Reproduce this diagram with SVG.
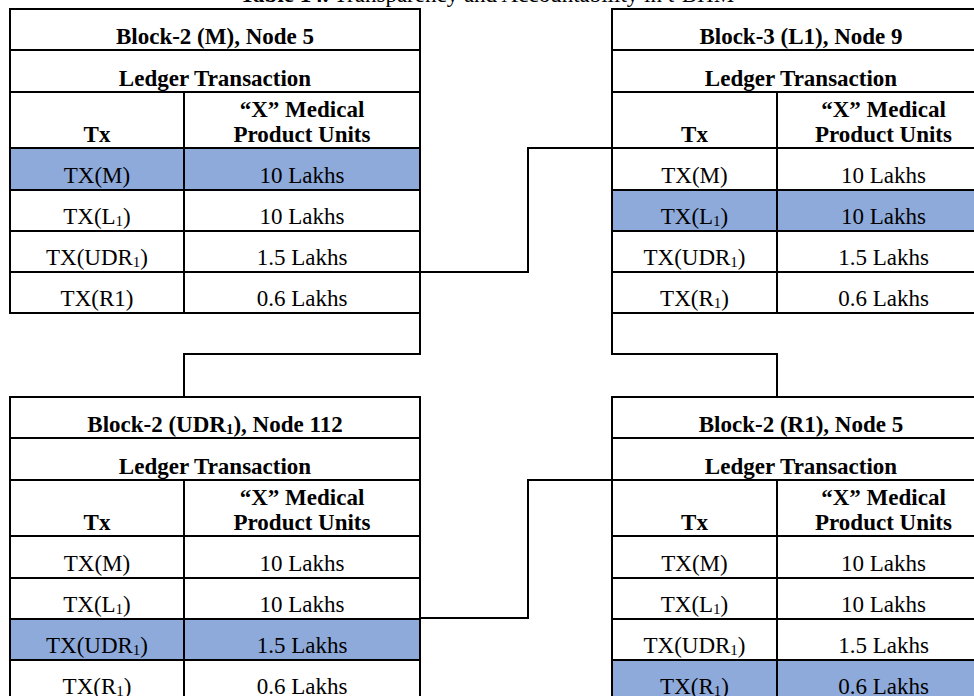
<svg xmlns="http://www.w3.org/2000/svg" width="974" height="696" viewBox="0 0 974 696">
<style>
.ln{fill:none;stroke:#000;stroke-width:2}
.hl{fill:#8EAADB}
.t{font-family:"Liberation Serif","Times New Roman",serif;font-size:23px;fill:#000;text-anchor:middle}
.b{font-weight:bold}
.sub{font-size:15px}
</style>
<rect width="974" height="696" fill="#fff"/>
<text class="t" x="487" y="2"><tspan class="b">Table 14.</tspan> Transparency and Accountability in t-BHM</text>

<g id="block-m" transform="translate(10,9)">
<rect class="hl" x="0" y="139" width="410" height="42"/>
<rect class="ln" x="0" y="0" width="410" height="304"/>
<path class="ln" d="M0,41H410M0,83H410M0,139H410M0,181H410M0,222H410M0,263H410M174,83V304"/>
<text class="t b" x="205" y="35">Block-2 (M), Node 5</text>
<text class="t b" x="205" y="77">Ledger Transaction</text>
<text class="t b" x="87" y="133">Tx</text>
<text class="t b" x="292" y="108">“X” Medical</text>
<text class="t b" x="292" y="133">Product Units</text>
<text class="t" x="87" y="174">TX(M)</text>
<text class="t" x="292" y="174">10 Lakhs</text>
<text class="t" x="87" y="215">TX(L<tspan class="sub" dy="2">1</tspan><tspan dy="-2">)</tspan></text>
<text class="t" x="292" y="215">10 Lakhs</text>
<text class="t" x="87" y="256">TX(UDR<tspan class="sub" dy="2">1</tspan><tspan dy="-2">)</tspan></text>
<text class="t" x="292" y="256">1.5 Lakhs</text>
<text class="t" x="87" y="297">TX(R1)</text>
<text class="t" x="292" y="297">0.6 Lakhs</text>
</g>

<g id="block-l1" transform="translate(612,9)">
<rect class="hl" x="0" y="181" width="378" height="41"/>
<rect class="ln" x="0" y="0" width="378" height="304"/>
<path class="ln" d="M0,41H378M0,83H378M0,139H378M0,181H378M0,222H378M0,263H378M165,83V304"/>
<text class="t b" x="189" y="35">Block-3 (L1), Node 9</text>
<text class="t b" x="189" y="77">Ledger Transaction</text>
<text class="t b" x="82.5" y="133">Tx</text>
<text class="t b" x="271.5" y="108">“X” Medical</text>
<text class="t b" x="271.5" y="133">Product Units</text>
<text class="t" x="82.5" y="174">TX(M)</text>
<text class="t" x="271.5" y="174">10 Lakhs</text>
<text class="t" x="82.5" y="215">TX(L<tspan class="sub" dy="2">1</tspan><tspan dy="-2">)</tspan></text>
<text class="t" x="271.5" y="215">10 Lakhs</text>
<text class="t" x="82.5" y="256">TX(UDR<tspan class="sub" dy="2">1</tspan><tspan dy="-2">)</tspan></text>
<text class="t" x="271.5" y="256">1.5 Lakhs</text>
<text class="t" x="82.5" y="297">TX(R<tspan class="sub" dy="2">1</tspan><tspan dy="-2">)</tspan></text>
<text class="t" x="271.5" y="297">0.6 Lakhs</text>
</g>

<g id="block-udr1" transform="translate(10,397)">
<rect class="hl" x="0" y="222" width="410" height="41"/>
<rect class="ln" x="0" y="0" width="410" height="304"/>
<path class="ln" d="M0,41H410M0,83H410M0,139H410M0,181H410M0,222H410M0,263H410M174,83V304"/>
<text class="t b" x="205" y="35">Block-2 (UDR<tspan class="sub" dy="2">1</tspan><tspan dy="-2">), Node 112</tspan></text>
<text class="t b" x="205" y="77">Ledger Transaction</text>
<text class="t b" x="87" y="133">Tx</text>
<text class="t b" x="292" y="108">“X” Medical</text>
<text class="t b" x="292" y="133">Product Units</text>
<text class="t" x="87" y="174">TX(M)</text>
<text class="t" x="292" y="174">10 Lakhs</text>
<text class="t" x="87" y="215">TX(L<tspan class="sub" dy="2">1</tspan><tspan dy="-2">)</tspan></text>
<text class="t" x="292" y="215">10 Lakhs</text>
<text class="t" x="87" y="256">TX(UDR<tspan class="sub" dy="2">1</tspan><tspan dy="-2">)</tspan></text>
<text class="t" x="292" y="256">1.5 Lakhs</text>
<text class="t" x="87" y="297">TX(R<tspan class="sub" dy="2">1</tspan><tspan dy="-2">)</tspan></text>
<text class="t" x="292" y="297">0.6 Lakhs</text>
</g>

<g id="block-r1" transform="translate(612,397)">
<rect class="hl" x="0" y="263" width="378" height="41"/>
<rect class="ln" x="0" y="0" width="378" height="304"/>
<path class="ln" d="M0,41H378M0,83H378M0,139H378M0,181H378M0,222H378M0,263H378M165,83V304"/>
<text class="t b" x="189" y="35">Block-2 (R1), Node 5</text>
<text class="t b" x="189" y="77">Ledger Transaction</text>
<text class="t b" x="82.5" y="133">Tx</text>
<text class="t b" x="271.5" y="108">“X” Medical</text>
<text class="t b" x="271.5" y="133">Product Units</text>
<text class="t" x="82.5" y="174">TX(M)</text>
<text class="t" x="271.5" y="174">10 Lakhs</text>
<text class="t" x="82.5" y="215">TX(L<tspan class="sub" dy="2">1</tspan><tspan dy="-2">)</tspan></text>
<text class="t" x="271.5" y="215">10 Lakhs</text>
<text class="t" x="82.5" y="256">TX(UDR<tspan class="sub" dy="2">1</tspan><tspan dy="-2">)</tspan></text>
<text class="t" x="271.5" y="256">1.5 Lakhs</text>
<text class="t" x="82.5" y="297">TX(R<tspan class="sub" dy="2">1</tspan><tspan dy="-2">)</tspan></text>
<text class="t" x="271.5" y="297">0.6 Lakhs</text>
</g>

<g id="connectors">
<path class="ln" d="M420,272H528V148H612"/>
<path class="ln" d="M420,313V354H184V397"/>
<path class="ln" d="M612,313V354H777V397"/>
<path class="ln" d="M420,618H528V480H612"/>
</g>
</svg>
